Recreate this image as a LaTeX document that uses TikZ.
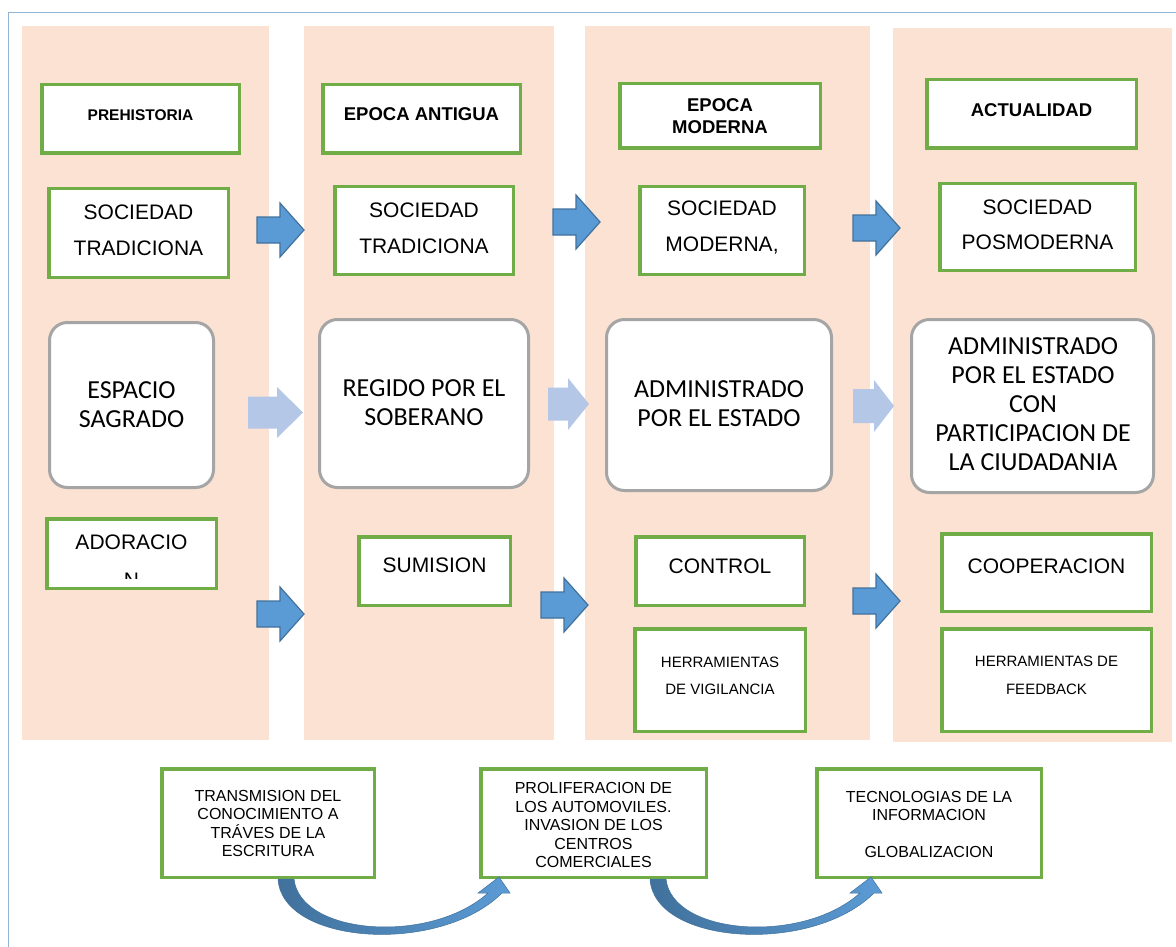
\documentclass[tikz,border=0pt]{standalone}
\usepackage{fontspec}
\setmainfont{Liberation Sans}
\newfontfamily\calfont{Carlito}
\usetikzlibrary{calc}
\definecolor{peach}{HTML}{FBE2D3}
\definecolor{grn}{HTML}{70AD47}
\definecolor{gry}{HTML}{A5A5A5}
\definecolor{arrowblue}{HTML}{5B9BD5}
\definecolor{arrowedge}{HTML}{41719C}
\definecolor{lightblue}{HTML}{B4C7E7}
\definecolor{framec}{HTML}{95B3D7}
\newcommand\gbox[5]{\node[gbox, minimum width={#4-#2-3.5}, minimum height={#5-#3-3.5}] (#1) at ({(#2+#4)/2},{(#3+#5)/2}) {};}
\newcommand\rbox[5]{\node[rbox, minimum width={#4-#2-3}, minimum height={#5-#3-3}] (#1) at ({(#2+#4)/2},{(#3+#5)/2}) {};}
\newcommand\blkarrow[2]{\path[barrow] (#1,#2-13) -- (#1+23,#2-13) -- (#1+23,#2-27) -- (#1+47,#2) -- (#1+23,#2+27) -- (#1+23,#2+13) -- (#1,#2+13) -- cycle;}
\newcommand\lgtarrow[6]{\path[larrow] (#1,#2-#5) -- (#1+#3,#2-#5) -- (#1+#3,#2-#6) -- (#1+#3+#4,#2) -- (#1+#3,#2+#6) -- (#1+#3,#2+#5) -- (#1,#2+#5) -- cycle;}
\tikzset{
  gbox/.style={draw=grn, line width=3.5pt, fill=white, inner sep=0pt},
  rbox/.style={draw=gry, line width=3pt, fill=white, rounded corners=18pt, inner sep=0pt},
  txt/.style={align=center, inner sep=0pt, text=black},
  hdr/.style={txt, font=\bfseries\fontsize{18.5}{22}\selectfont},
  soc/.style={txt, font=\fontsize{21}{36}\selectfont},
  rtx/.style={txt, font=\calfont\fontsize{26}{29}\selectfont},
  smalltx/.style={txt, font=\fontsize{15}{27}\selectfont},
  btx/.style={txt, font=\fontsize{16}{18.5}\selectfont},
  barrow/.style={fill=arrowblue, draw=arrowedge, line width=1.2pt, line join=miter},
  larrow/.style={fill=lightblue},
  curv/.style={left color=arrowedge, right color=arrowblue, draw=arrowedge, line width=0.5pt}
}
\begin{document}
\begin{tikzpicture}[x=1pt,y=-1pt]
\useasboundingbox (0,0) rectangle (1176,947);
\fill[white] (0,0) rectangle (1176,947);
% frame
\draw[framec, line width=1.2pt] (8.5,947) -- (8.5,12.5) -- (1176,12.5);
% panels
\fill[peach] (22,26) rectangle (269,740);
\fill[peach] (304,26) rectangle (554,740);
\fill[peach] (585,26) rectangle (870,740);
\fill[peach] (893,28) rectangle (1172,742);
% headers
\gbox{h1}{40}{83}{241}{155}
\gbox{h2}{321}{83}{522}{155}
\gbox{h3}{618}{82}{822}{150}
\gbox{h4}{925}{78}{1138}{150}
\node[hdr, font=\bfseries\fontsize{15.5}{18}\selectfont] (th1) at (140.5,115) {PREHISTORIA};
\node[hdr] (th2) at (421.5,114) {EPOCA ANTIGUA};
\node[hdr] (th3) at (720,116) {EPOCA\\MODERNA};
\node[hdr] (th4) at (1031.5,110) {ACTUALIDAD};
% sociedad row
\gbox{s1}{47}{187}{230}{279}
\gbox{s2}{333}{185}{515}{276}
\gbox{s3}{638}{185}{806}{276}
\gbox{s4}{938}{182}{1137}{272}
\node[soc] (ts1) at (138.5,230) {SOCIEDAD\\TRADICIONA};
\node[soc] (ts2) at (424,228) {SOCIEDAD\\TRADICIONA};
\node[soc] (ts3) at (722,228) {SOCIEDAD\\MODERNA,};
\node[soc, font=\fontsize{21}{35}\selectfont] (ts4) at (1037.5,224.5) {SOCIEDAD\\POSMODERNA};
\blkarrow{257}{230}
\blkarrow{553}{222}
\blkarrow{853}{228}
% rounded row
\rbox{r1}{48}{321}{215}{489}
\rbox{r2}{318}{318}{530}{489}
\rbox{r3}{605}{318}{833}{492}
\rbox{r4}{910}{318}{1155}{494}
\node[rtx] (tr1) at (131.5,404.5) {ESPACIO\\SAGRADO};
\node[rtx] (tr2) at (424,402.5) {REGIDO POR EL\\SOBERANO};
\node[rtx] (tr3) at (719,403.5) {ADMINISTRADO\\POR EL ESTADO};
\node[rtx] (tr4) at (1033,404.5) {ADMINISTRADO\\POR EL ESTADO\\CON\\PARTICIPACION DE\\LA CIUDADANIA};
\lgtarrow{248}{412.5}{29}{26}{16}{25.5}
\lgtarrow{548}{404}{20}{21}{16.5}{26}
\lgtarrow{853}{406}{21}{20}{17}{26}
% bottom row
\gbox{a1}{45}{517}{218}{590}
\begin{scope}
\clip (46,518) rectangle (217,578);
\node[soc, font=\fontsize{21}{38}\selectfont] (ta1) at (131.5,561.5) {ADORACIO\\N};
\end{scope}
\gbox{a2}{357}{535}{512}{607}
\gbox{a3}{634}{535}{806}{607}
\gbox{a4}{940}{532}{1153}{613}
\node[soc] (ta2) at (434.5,565) {SUMISION};
\node[soc] (ta3) at (720,566) {CONTROL};
\node[soc] (ta4) at (1046.5,566) {COOPERACION};
\gbox{v3}{633}{627}{807}{733}
\gbox{v4}{940}{627}{1153}{733}
\node[smalltx] (tv3) at (720,675.5) {HERRAMIENTAS\\DE VIGILANCIA};
\node[smalltx, font=\fontsize{15}{28}\selectfont] (tv4) at (1046.5,675) {HERRAMIENTAS DE\\FEEDBACK};
\blkarrow{257}{614}
\blkarrow{541}{605}
\blkarrow{853}{601}
% bottom boxes
\gbox{b1}{160}{767}{376}{879}
\gbox{b2}{479}{767}{708}{879}
\gbox{b3}{815}{767}{1043}{879}
\node[btx] (tb1) at (268,823.5) {TRANSMISION DEL\\CONOCIMIENTO A\\TRÁVES DE LA\\ESCRITURA};
\node[btx] (tb2) at (593.5,825) {PROLIFERACION DE\\LOS AUTOMOVILES.\\INVASION DE LOS\\CENTROS\\COMERCIALES};
\node[btx] (tb3) at (929,824.5) {TECNOLOGIAS DE LA\\INFORMACION\\~\\GLOBALIZACION};
% curved arrows
\shadedraw[curv] (278,879) .. controls (282,945) and (440,955) .. (502,893) -- (510,893) -- (499,877) -- (478,893) -- (488,893) .. controls (430,945) and (300,935) .. (294,879) -- cycle;
\begin{scope}[xshift=372pt]
\shadedraw[curv] (278,879) .. controls (282,945) and (440,955) .. (502,893) -- (510,893) -- (499,877) -- (478,893) -- (488,893) .. controls (430,945) and (300,935) .. (294,879) -- cycle;
\end{scope}
\end{tikzpicture}
\end{document}
